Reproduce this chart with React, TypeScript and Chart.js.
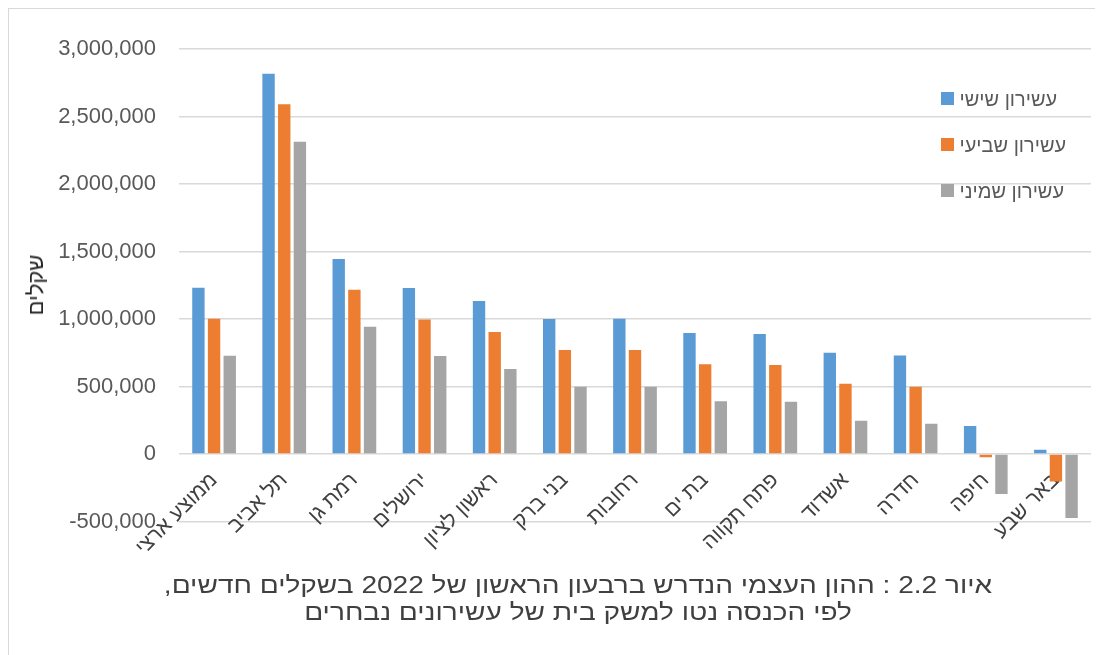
import React, { useEffect, useRef } from "react";
import { Chart, registerables } from "chart.js";

Chart.register(...registerables);

const categories = [
  "ממוצע ארצי",
  "תל אביב",
  "רמת גן",
  "ירושלים",
  "ראשון לציון",
  "בני ברק",
  "רחובות",
  "בת ים",
  "פתח תקווה",
  "אשדוד",
  "חדרה",
  "חיפה",
  "באר שבע",
];

const decile6 = [1232000, 2817000, 1444000, 1230000, 1133000, 1000000, 1002000, 896000, 889000, 750000, 730000, 207000, 32000];
const decile7 = [1002000, 2590000, 1217000, 997000, 904000, 770000, 770000, 664000, 659000, 521000, 498000, -24000, -203000];
const decile8 = [728000, 2313000, 943000, 726000, 630000, 498000, 498000, 390000, 387000, 247000, 224000, -296000, -474000];

const seriesNames = ["עשירון שישי", "עשירון שביעי", "עשירון שמיני"];
const seriesColors = ["#5B9BD5", "#ED7D31", "#A5A5A5"];

const yMin = -500000;
const yMax = 3000000;
const yStep = 500000;

const yTitle = "שקלים";
const titleLine1 = "איור 2.2 : ההון העצמי הנדרש ברבעון הראשון של 2022 בשקלים חדשים,";
const titleLine2 = "לפי הכנסה נטו למשק בית של עשירונים נבחרים";

const W = 1095;
const H = 647;
const FONT = "'Liberation Sans', Arial, sans-serif";

export default function App() {
  const ref = useRef<HTMLCanvasElement | null>(null);

  useEffect(() => {
    if (!ref.current) return;
    const series = [decile6, decile7, decile8];
    const chart = new Chart(ref.current, {
      type: "bar",
      data: {
        labels: categories,
        datasets: series.map((d, i) => ({
          label: seriesNames[i],
          data: d,
          backgroundColor: seriesColors[i],
          borderWidth: 0,
          categoryPercentage: 0.67,
          barPercentage: 0.79,
        })),
      },
      options: {
        responsive: false,
        animation: false,
        maintainAspectRatio: false,
        layout: { padding: { top: 41, right: 12, bottom: 133.5, left: 0 } },
        plugins: {
          legend: { display: false },
          title: { display: false },
          tooltip: { enabled: false },
        },
        scales: {
          y: {
            min: yMin,
            max: yMax,
            border: { display: false },
            grid: { color: "#d9d9d9", lineWidth: 1.5, drawTicks: false },
            ticks: {
              stepSize: yStep,
              padding: 23,
              color: "#595959",
              font: { family: FONT, size: 22 },
              callback: (v: any) => Number(v).toLocaleString("en-US"),
            },
            afterFit: (s: any) => {
              s.width = 171;
            },
          },
          x: {
            position: { y: 0 } as any,
            border: { display: false },
            grid: { display: false, drawTicks: false },
            ticks: {
              minRotation: 45,
              maxRotation: 45,
              padding: 14,
              color: "#404040",
              font: { family: FONT, size: 21 },
              autoSkip: false,
            },
            afterFit: (s: any) => {
              s.height = 0;
              s.paddingLeft = 0;
              s.paddingRight = 0;
            },
          },
        },
      },
    });
    return () => chart.destroy();
  }, []);

  return (
    <div style={{ position: "relative", width: W, height: H, fontFamily: FONT }}>
      <div
        style={{
          position: "absolute",
          left: 0,
          top: 0,
          width: W + 20,
          height: H + 20,
          borderLeft: "1px solid #d9d9d9",
          borderTop: "1px solid #d9d9d9",
          boxSizing: "border-box",
        }}
      />
      <canvas ref={ref} width={W} height={H} style={{ position: "absolute", left: 0, top: 0, width: W, height: H }} />
      {seriesNames.map((n, i) => (
        <div key={n} style={{ position: "absolute", left: 933, top: 84 + i * 46, height: 13, display: "flex", alignItems: "center" }}>
          <div style={{ width: 12.5, height: 12.5, background: seriesColors[i] }} />
          <span dir="rtl" style={{ marginLeft: 6, fontSize: 20, color: "#595959", whiteSpace: "nowrap", lineHeight: "20px" }}>
            {n}
          </span>
        </div>
      ))}
      <div
        dir="rtl"
        style={{
          position: "absolute",
          left: 28,
          top: 277,
          transform: "translate(-50%, -50%) rotate(-90deg)",
          fontSize: 22,
          color: "#262626",
          whiteSpace: "nowrap",
          lineHeight: "24px",
        }}
      >
        {yTitle}
      </div>
      <div
        dir="rtl"
        style={{
          position: "absolute",
          left: 570,
          top: 564,
          transform: "translateX(-50%) scaleX(1.22)",
          fontSize: 23,
          lineHeight: "27px",
          color: "#404040",
          textAlign: "center",
          whiteSpace: "nowrap",
        }}
      >
        <div>{titleLine1}</div>
        <div>{titleLine2}</div>
      </div>
    </div>
  );
}
